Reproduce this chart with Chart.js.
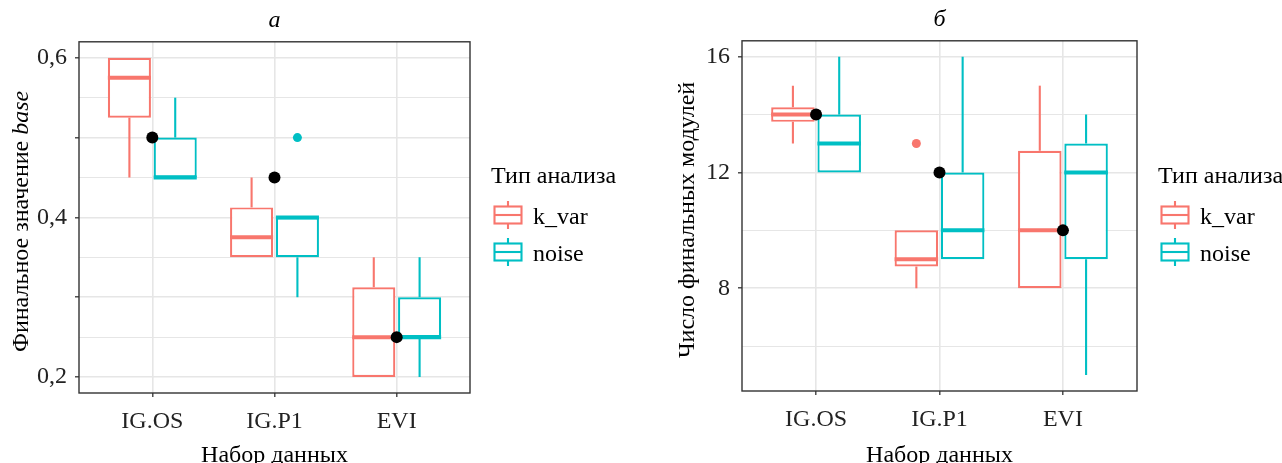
<!DOCTYPE html>
<html>
<head>
<meta charset="utf-8">
<script src="https://cdn.jsdelivr.net/npm/chart.js@4.4.1/dist/chart.umd.min.js"></script>
<style>
  body { margin: 0; background: #fff; width: 1282px; height: 463px; overflow: hidden; position: relative; }
  canvas { position: absolute; top: 0; }
  #chartA { left: 0; }
  #chartB { left: 640px; }
</style>
</head>
<body>
<canvas id="chartA" width="641" height="480"></canvas>
<canvas id="chartB" width="700" height="480"></canvas>
<script>
const categories = ["IG.OS", "IG.P1", "EVI"];
const groupNames = ["k_var", "noise"];
const groupColors = ["#F8766D", "#00BFC4"];

// panel a: [lower whisker, q1, median, q3, upper whisker]
const baseKvar  = [[0.45, 0.525, 0.575, 0.6, 0.6], [0.35, 0.35, 0.375, 0.4125, 0.45], [0.2, 0.2, 0.25, 0.3125, 0.35]];
const baseNoise = [[0.45, 0.45, 0.45, 0.5, 0.55], [0.3, 0.35, 0.4, 0.4, 0.4], [0.2, 0.25, 0.25, 0.3, 0.35]];
const baseKvarOut  = [[], [], []];
const baseNoiseOut = [[], [0.5], []];
const baseMean = [0.5, 0.45, 0.25];
const baseGrid = [0.2, 0.25, 0.3, 0.35, 0.4, 0.45, 0.5, 0.55, 0.6];
const baseTicks = [0.2, 0.3, 0.4, 0.5, 0.6];
const baseLabels = [0.2, 0.4, 0.6];

// panel b
const modKvar  = [[13, 13.75, 14, 14.25, 15], [8, 8.75, 9, 10, 10], [8, 8, 10, 12.75, 15]];
const modNoise = [[12, 12, 13, 14, 16], [9, 9, 10, 12, 16], [5, 9, 12, 13, 14]];
const modKvarOut  = [[], [13], []];
const modNoiseOut = [[], [], []];
const modMean = [14, 12, 10];
const modGrid = [6, 8, 10, 12, 14, 16];
const modTicks = [8, 12, 16];
const modLabels = [8, 12, 16];

const FONT = "'Liberation Serif', 'DejaVu Serif', serif";

const boxPlugin = {
  id: "boxes",
  afterDatasetDraw(chart, args) {
    if (args.meta.type !== "bar") return;
    const ds = chart.data.datasets[args.index];
    const y = chart.scales.y;
    const ctx = chart.ctx;
    ctx.save();
    ctx.strokeStyle = ds.borderColor;
    ctx.fillStyle = ds.borderColor;
    args.meta.data.forEach((bar, i) => {
      const [lo, q1, med, q3, hi] = ds.stats[i];
      const {x, width} = bar.getProps(["x", "width"], true);
      ctx.lineWidth = 2.1;
      ctx.beginPath();
      ctx.moveTo(x, y.getPixelForValue(q3)); ctx.lineTo(x, y.getPixelForValue(hi));
      ctx.moveTo(x, y.getPixelForValue(q1)); ctx.lineTo(x, y.getPixelForValue(lo));
      ctx.stroke();
      const ym = y.getPixelForValue(med);
      ctx.lineWidth = 4;
      ctx.beginPath();
      ctx.moveTo(x - width / 2, ym); ctx.lineTo(x + width / 2, ym);
      ctx.stroke();
      ds.outliers[i].forEach(v => {
        ctx.beginPath();
        ctx.arc(x, y.getPixelForValue(v), 4.5, 0, Math.PI * 2);
        ctx.fill();
      });
    });
    ctx.restore();
  },
  afterDatasetsDraw(chart, args, opts) {
    const ctx = chart.ctx, ca = chart.chartArea;
    ctx.save();
    // panel border
    ctx.strokeStyle = "#333";
    ctx.lineWidth = 1.4;
    ctx.strokeRect(ca.left, ca.top, ca.right - ca.left, ca.bottom - ca.top);

    // y axis title with mixed styles
    ctx.translate(opts.yTitleX, (ca.top + ca.bottom) / 2 + 4);
    ctx.rotate(-Math.PI / 2);
    ctx.fillStyle = "#000";
    ctx.textBaseline = "middle";
    ctx.textAlign = "left";
    const fontOf = p => (p.italic ? "italic " : "") + "24px " + FONT;
    let total = 0;
    opts.yTitle.forEach(p => { ctx.font = fontOf(p); total += ctx.measureText(p.text).width; });
    let cx = -total / 2;
    opts.yTitle.forEach(p => { ctx.font = fontOf(p); ctx.fillText(p.text, cx, 0); cx += ctx.measureText(p.text).width; });
    ctx.restore();

    // legend
    ctx.save();
    const lx = ca.right;
    ctx.fillStyle = "#000";
    ctx.font = "24px " + FONT;
    ctx.textBaseline = "alphabetic";
    ctx.textAlign = "left";
    ctx.fillText("Тип анализа", lx + 21, 183);
    groupNames.forEach((g, k) => {
      const cy = 215 + k * 37, kx = lx + 38;
      ctx.strokeStyle = groupColors[k];
      ctx.lineWidth = 2.1;
      ctx.beginPath();
      ctx.moveTo(kx, cy - 14); ctx.lineTo(kx, cy - 8.5);
      ctx.moveTo(kx, cy + 8.5); ctx.lineTo(kx, cy + 14);
      ctx.stroke();
      ctx.strokeRect(kx - 13.5, cy - 8.5, 27, 17);
      ctx.beginPath();
      ctx.moveTo(kx - 13.5, cy); ctx.lineTo(kx + 13.5, cy);
      ctx.stroke();
      ctx.fillStyle = "#000";
      ctx.fillText(g, lx + 63, cy + 9);
    });
    ctx.restore();
  }
};

function boxDataset(k, stats, outs) {
  return {
    type: "bar",
    label: groupNames[k],
    data: stats.map((s, i) => ({x: i + 1, y: [s[1], s[3]]})),
    stats: stats,
    outliers: outs,
    backgroundColor: "#ffffff",
    borderColor: groupColors[k],
    borderWidth: 2.2,
    borderSkipped: false,
    categoryPercentage: 0.75,
    barPercentage: 0.94,
    order: 2
  };
}

function makePanel(id, o) {
  const isMajor = v => o.ticks.includes(v);
  return new Chart(document.getElementById(id), {
    type: "bar",
    data: {
      datasets: [
        boxDataset(0, o.kvar, o.kvarOut),
        boxDataset(1, o.noise, o.noiseOut),
        {
          type: "scatter",
          label: "mean",
          data: o.mean.map((m, i) => ({x: i + 1, y: m})),
          backgroundColor: "#000",
          borderWidth: 0,
          pointRadius: 6,
          order: 1
        }
      ]
    },
    options: {
      responsive: false,
      animation: false,
      layout: {padding: {left: 0, right: o.padRight, top: 0, bottom: 0}},
      plugins: {
        legend: {display: false},
        tooltip: {enabled: false},
        title: {
          display: true,
          fullSize: false,
          text: o.title,
          color: "#000",
          font: {family: FONT, size: 24, style: "italic", weight: "normal"},
          padding: {top: o.titleTop, bottom: o.titleBottom}
        },
        boxes: {yTitle: o.yTitle, yTitleX: o.yTitleX}
      },
      scales: {
        x: {
          type: "linear",
          min: 0.4,
          max: 3.6,
          offset: false,
          afterBuildTicks: s => { s.ticks = categories.map((c, i) => ({value: i + 1})); },
          afterFit: s => { s.height = 480 - o.bottom; },
          border: {display: false},
          grid: {offset: false, color: "#e6e6e6", lineWidth: 1.6, tickColor: "#333", tickLength: 4, tickWidth: 1.3},
          ticks: {
            callback: v => categories[v - 1],
            color: "#222",
            padding: 10,
            maxRotation: 0,
            font: {family: FONT, size: 24}
          },
          title: {
            display: true,
            text: "Набор данных",
            color: "#000",
            font: {family: FONT, size: 24},
            padding: {top: 0, bottom: 10}
          }
        },
        y: {
          min: o.min,
          max: o.max,
          afterBuildTicks: s => { s.ticks = o.grid.map(v => ({value: v})); },
          afterFit: s => { s.width = o.left; },
          border: {display: false},
          grid: {
            color: "#e6e6e6",
            lineWidth: c => (isMajor(c.tick.value) ? 1.6 : 1.1),
            tickColor: c => (isMajor(c.tick.value) ? "#333" : "rgba(0,0,0,0)"),
            tickWidth: 1.3,
            tickLength: 4
          },
          ticks: {
            callback: v => (o.labels.includes(v) ? String(v).replace(".", ",") : ""),
            color: "#222",
            padding: 8,
            font: {family: FONT, size: 24}
          }
        }
      }
    },
    plugins: [boxPlugin]
  });
}

makePanel("chartA", {
  title: "a", kvar: baseKvar, noise: baseNoise, kvarOut: baseKvarOut, noiseOut: baseNoiseOut,
  mean: baseMean, grid: baseGrid, ticks: baseTicks, labels: baseLabels,
  min: 0.18, max: 0.62, left: 79, bottom: 393, padRight: 171, titleTop: 6, titleBottom: 7,
  yTitle: [{text: "Финальное значение "}, {text: "base", italic: true}], yTitleX: 22
});

makePanel("chartB", {
  title: "б", kvar: modKvar, noise: modNoise, kvarOut: modKvarOut, noiseOut: modNoiseOut,
  mean: modMean, grid: modGrid, ticks: modTicks, labels: modLabels,
  min: 4.45, max: 16.55, left: 102, bottom: 391, padRight: 203, titleTop: 5, titleBottom: 7,
  yTitle: [{text: "Число финальных модулей"}], yTitleX: 48
});
</script>
</body>
</html>
